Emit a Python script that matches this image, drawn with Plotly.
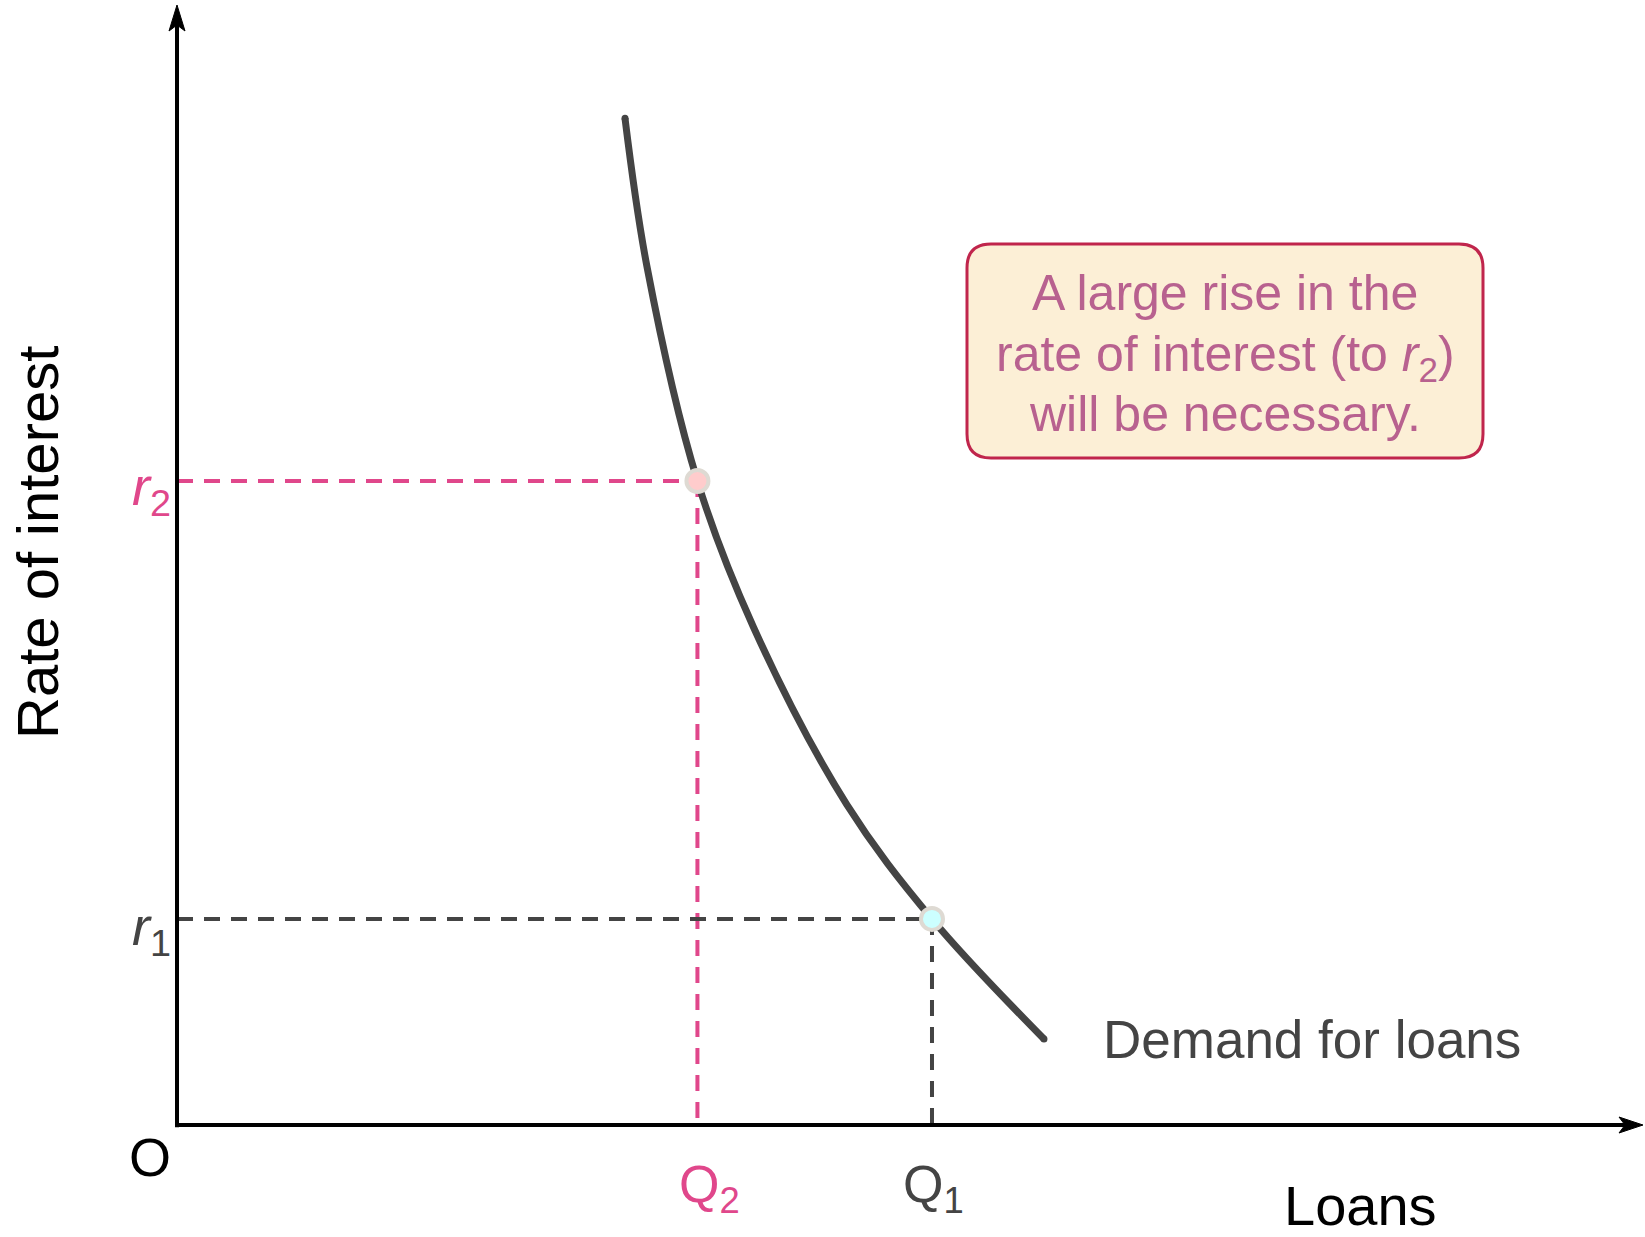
import plotly.graph_objects as go

# ---- data -------------------------------------------------------------
# Demand-for-loans curve: quantity of loans vs. rate of interest
loans = [30.56, 32.06, 35.5, 39.31, 45.68, 51.5, 59.14]
rate = [89.88, 76.63, 57.5, 44.49, 28.63, 18.4, 7.68]

# Points on the curve
q2, r2 = 35.5, 57.5
q1, r1 = 51.5, 18.4

note_lines = ["A large rise in the",
              "rate of interest (to <i>r</i><sub>2</sub>)",
              "will be necessary."]

# ---- layout helpers ----------------------------------------------------
W, H = 1645, 1237
L, R, T, B = 177, 2, 5, 112
PW, PH = W - L - R, H - T - B
FONT = "Liberation Sans, Arial, sans-serif"

PINK = "#E0478B"
DARK = "#444444"
MAUVE = "#B8618F"
CRIMSON = "#C0254C"


def fx(px):
    return (px - L) / PW


def fy(py):
    return (H - B - py) / PH


def label(text, px, py, size, color, xanchor="center", angle=0):
    return dict(text=text, x=fx(px), y=fy(py), xref="paper", yref="paper",
                showarrow=False, xanchor=xanchor, yanchor="middle",
                textangle=angle,
                font=dict(family=FONT, size=size, color=color))


def rounded_box(x0, y0, x1, y1, r):
    return (f"M{fx(x0 + r)},{fy(y0)} L{fx(x1 - r)},{fy(y0)} "
            f"Q{fx(x1)},{fy(y0)} {fx(x1)},{fy(y0 + r)} "
            f"L{fx(x1)},{fy(y1 - r)} "
            f"Q{fx(x1)},{fy(y1)} {fx(x1 - r)},{fy(y1)} "
            f"L{fx(x0 + r)},{fy(y1)} "
            f"Q{fx(x0)},{fy(y1)} {fx(x0)},{fy(y1 - r)} "
            f"L{fx(x0)},{fy(y0 + r)} "
            f"Q{fx(x0)},{fy(y0)} {fx(x0 + r)},{fy(y0)} Z")


fig = go.Figure()

dash = "16px,11px"
# guide lines to the axes
fig.add_trace(go.Scatter(x=[0, q2], y=[r2, r2], mode="lines",
                         line=dict(color=PINK, width=4, dash=dash),
                         hoverinfo="skip"))
fig.add_trace(go.Scatter(x=[q2, q2], y=[r2, 0], mode="lines",
                         line=dict(color=PINK, width=4, dash=dash),
                         hoverinfo="skip"))
fig.add_trace(go.Scatter(x=[0, q1], y=[r1, r1], mode="lines",
                         line=dict(color=DARK, width=4, dash=dash),
                         hoverinfo="skip"))
fig.add_trace(go.Scatter(x=[q1, q1], y=[r1, 0], mode="lines",
                         line=dict(color=DARK, width=4, dash=dash),
                         hoverinfo="skip"))

# demand curve
fig.add_trace(go.Scatter(x=loans, y=rate, mode="lines",
                         line=dict(color=DARK, width=7, shape="spline",
                                   smoothing=1),
                         hoverinfo="skip"))
# rounded ends of the curve
fig.add_trace(go.Scatter(x=[loans[0], loans[-1]], y=[rate[0], rate[-1]],
                         mode="markers",
                         marker=dict(size=7, color=DARK, line=dict(width=0)),
                         hoverinfo="skip"))

# the two points
fig.add_trace(go.Scatter(x=[q2, q1], y=[r2, r1], mode="markers",
                         marker=dict(size=22, color=["#FFCCCC", "#CCFFFF"],
                                     line=dict(color="#DEDAD3", width=4)),
                         cliponaxis=False, hoverinfo="skip"))

shapes = [
    # axes
    dict(type="line", xref="paper", yref="paper", x0=0, y0=-0.002, x1=0,
         y1=0.985, line=dict(color="black", width=4), layer="above"),
    dict(type="line", xref="paper", yref="paper", x0=-0.001, y0=0, x1=0.99,
         y1=0, line=dict(color="black", width=4), layer="above"),
    # arrowheads
    dict(type="path", xref="paper", yref="paper", xsizemode="pixel",
         ysizemode="pixel", xanchor=1, yanchor=0,
         path="M0,0 L-24,8 L-18,0 L-24,-8 Z",
         fillcolor="black", line=dict(color="black", width=1), layer="above"),
    dict(type="path", xref="paper", yref="paper", xsizemode="pixel",
         ysizemode="pixel", xanchor=0, yanchor=1,
         path="M0,0 L-8,-26 L0,-20 L8,-26 Z",
         fillcolor="black", line=dict(color="black", width=1), layer="above"),
    # note box
    dict(type="path", xref="paper", yref="paper",
         path=rounded_box(967, 244, 1483, 458, 24),
         fillcolor="#FCEFD6", line=dict(color=CRIMSON, width=3),
         layer="below"),
]

annotations = [
    label("Rate of interest", 37, 543, 58, "black", angle=-90),
    label("Loans", 1360, 1205, 56, "black"),
    label("O", 150, 1157, 54, "black"),
    label("Demand for loans", 1101, 1039, 53, DARK, xanchor="left"),
    label("<i>r</i><sub>2</sub>", 151, 490, 54, PINK),
    label("<i>r</i><sub>1</sub>", 151, 930, 54, DARK),
    label("Q<sub>2</sub>", 709, 1188, 52, PINK),
    label("Q<sub>1</sub>", 933, 1188, 52, DARK),
    label(note_lines[0], 1225, 293, 50, MAUVE),
    label(note_lines[1], 1225, 357, 50, MAUVE),
    label(note_lines[2], 1225, 414, 50, MAUVE),
]

fig.update_layout(
    width=W, height=H,
    margin=dict(l=L, r=R, t=T, b=B, pad=0),
    paper_bgcolor="white", plot_bgcolor="white",
    showlegend=False,
    xaxis=dict(range=[0, 100], visible=False, fixedrange=True),
    yaxis=dict(range=[0, 100], visible=False, fixedrange=True),
    shapes=shapes,
    annotations=annotations,
)

fig.write_html("out.html", config={"displayModeBar": False})
